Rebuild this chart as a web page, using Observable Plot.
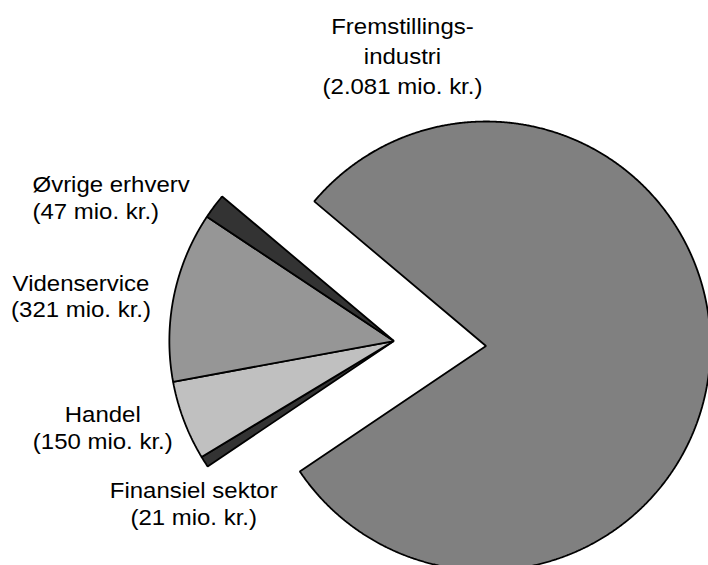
<!DOCTYPE html>
<html><head><meta charset="utf-8">
<script src="https://cdn.jsdelivr.net/npm/d3@7"></script>
<script src="https://cdn.jsdelivr.net/npm/@observablehq/plot@0.6"></script>
<style>html,body{margin:0;padding:0;background:#fff}</style>
</head><body><div id="chart"></div>
<script>
// ---- data ----
const sectors = ["Fremstillingsindustri", "Finansiel sektor", "Handel", "Videnservice", "Øvrige erhverv"];
const values = [2081, 21, 150, 321, 47]; // mio. kr.
const labelNames = ["Fremstillings-\nindustri", "Finansiel sektor", "Handel", "Videnservice", "Øvrige erhverv"];

// ---- styles / layout ----
const colors = ["#808080", "#333333", "#c0c0c0", "#969696", "#333333"];
const W = 708, H = 565;
const unitPx = 224.5;              // pixels per pie radius
const centerPx = [485.5, 345.5];   // pie centre in the frame
const startDeg = -49.9;            // clockwise from 12 o'clock
const explodeDist = 0.411;         // separation of the small slices (radius units)
const fontSize = 21.8;
const textStretch = 1.10;
// label anchors in radius units relative to pie centre
const labelLayout = [
  {x: -0.372, y: 1.298, anchor: "middle", lh: 1.38},
  {x: -1.302, y: -0.700, anchor: "middle", lh: 1.22},
  {x: -1.707, y: -0.361, anchor: "middle", lh: 1.22},
  {x: -1.804, y: 0.225, anchor: "middle", lh: 1.22},
  {x: -2.020, y: 0.663, anchor: "start", lh: 1.22}
];

const fmt = d3.formatLocale({decimal: ",", thousands: ".", grouping: [3], currency: ["", " kr."]}).format(",");

// ---- geometry ----
const rad = Math.PI / 180;
const s0 = startDeg * rad;
const arcs = d3.pie().sort(null).value(d => d).startAngle(s0).endAngle(s0 + 2 * Math.PI)(values);
// explosion direction: bisector of the small-slice group
const gA0 = arcs[1].startAngle, gA1 = arcs[arcs.length - 1].endAngle;
const gMid = (gA0 + gA1) / 2;
const groupOffset = [explodeDist * Math.sin(gMid), explodeDist * Math.cos(gMid)];

const pts = [];
arcs.forEach((a, i) => {
  const c = i === 0 ? [0, 0] : groupOffset;
  pts.push({sector: sectors[i], color: colors[i], x: c[0], y: c[1]});
  const n = Math.max(2, Math.ceil((a.endAngle - a.startAngle) / (0.25 * rad)) + 1);
  for (let k = 0; k < n; k++) {
    const t = a.startAngle + (a.endAngle - a.startAngle) * k / (n - 1);
    pts.push({sector: sectors[i], color: colors[i], x: c[0] + Math.sin(t), y: c[1] + Math.cos(t)});
  }
});

const labels = sectors.map((s, i) => ({
  text: labelNames[i] + "\n(" + fmt(values[i]) + " mio. kr.)",
  ...labelLayout[i]
}));

const xDomain = [-centerPx[0] / unitPx, (W - centerPx[0]) / unitPx];
const yDomain = [-(H - centerPx[1]) / unitPx, centerPx[1] / unitPx];

const chart = Plot.plot({
  width: W, height: H,
  margin: 0,
  x: {domain: xDomain, axis: null},
  y: {domain: yDomain, axis: null},
  color: {type: "identity"},
  style: {fontFamily: "'Liberation Sans', Arial, sans-serif", background: "white", color: "black"},
  marks: [
    Plot.line(pts, {x: "x", y: "y", z: "sector", fill: "color", stroke: "black",
      strokeWidth: 1.8, curve: "linear-closed", strokeLinejoin: "miter", strokeLinecap: "butt"}),
    ...labels.map(l => Plot.text([l], {x: "x", y: "y", text: "text", textAnchor: l.anchor,
      lineAnchor: "middle", lineHeight: l.lh, fontSize, fill: "black"}))
  ]
});

d3.select(chart).selectAll('g[aria-label="text"] text').each(function() {
  const t = this.getAttribute("transform");
  if (t) this.setAttribute("transform", t + ` scale(${textStretch},1)`);
});

document.getElementById("chart").appendChild(chart);
</script>
</body></html>
